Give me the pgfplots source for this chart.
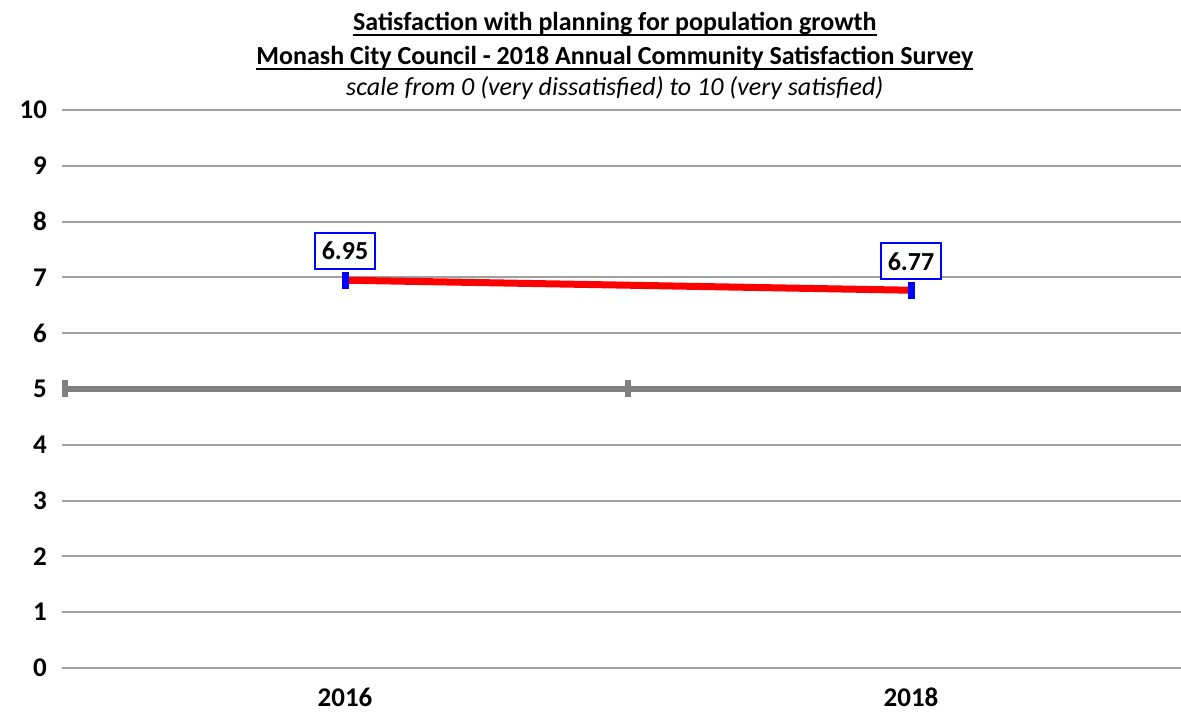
\documentclass[border=0pt]{standalone}
\usepackage{fontspec}
\setmainfont{Carlito}
\usepackage{pgfplots}
\pgfplotsset{compat=1.18}
\definecolor{gridgray}{HTML}{A0A0A0}
\definecolor{midgray}{HTML}{808080}
\definecolor{lblue}{HTML}{0000FF}
\newsavebox{\ulbox}
\newcommand{\myul}[1]{\sbox{\ulbox}{#1}\rlap{\usebox{\ulbox}}\rule[-2.5pt]{\wd\ulbox}{1pt}}
\begin{document}
\begin{tikzpicture}
\begin{axis}[
  scale only axis, width=559.5pt, height=279pt,
  xmin=-0.5, xmax=1.477, ymin=0, ymax=10,
  xtick={0,1}, xticklabels={2016,2018},
  ytick={0,1,...,10},
  axis line style={draw=none}, tick style={draw=none},
  ymajorgrids, grid style={gridgray, line width=1pt},
  /pgf/number format/assume math mode=true,
  ticklabel style={font=\fontsize{13.5}{16}\selectfont\bfseries},
  yticklabel style={xshift=-4pt},
  xticklabel style={yshift=-6.5pt},
  clip=false,
]
\coordinate (sw) at (rel axis cs:0,0);
\coordinate (ne) at (rel axis cs:1,1);
\draw[midgray, line width=3pt] (axis cs:-0.5,5) -- (axis cs:1.477,5);
\draw[midgray, line width=3pt] ([xshift=1.5pt,yshift=-4.25pt]axis cs:-0.5,5) -- ([xshift=1.5pt,yshift=4.25pt]axis cs:-0.5,5);
\draw[midgray, line width=3pt] ([yshift=-4.25pt]axis cs:0.5,5) -- ([yshift=4.25pt]axis cs:0.5,5);
\addplot[red, line width=3.5pt, mark=|, mark size=4.25pt,
  mark options={lblue, line width=3.5pt},
  nodes near coords, point meta=explicit symbolic,
  every node near coord/.append style={font=\fontsize{13}{15}\selectfont\bfseries, text=black,
    draw=lblue, line width=1pt, fill=white, inner xsep=3.5pt, inner ysep=4.5pt, anchor=south, yshift=5pt}]
  coordinates {(0,6.95) [6.95] (1,6.77) [6.77]};
\node[anchor=base, font=\fontsize{13}{15}\selectfont\bfseries] at ([yshift=39.5pt]rel axis cs:0.494,1)
  {\myul{Satisfaction with planning for population growth}};
\node[anchor=base, font=\fontsize{13}{15}\selectfont\bfseries] at ([yshift=22.5pt]rel axis cs:0.494,1)
  {\myul{Monash City Council - 2018 Annual Community Satisfaction Survey}};
\node[anchor=base, font=\fontsize{13}{15}\selectfont\itshape] at ([yshift=7pt]rel axis cs:0.494,1)
  {scale from 0 (very dissatisfied) to 10 (very satisfied)};
\end{axis}
\pgfresetboundingbox
\path[use as bounding box] ([xshift=-31pt,yshift=-21.5pt]sw) rectangle ([yshift=55pt]ne);
\end{tikzpicture}
\end{document}
